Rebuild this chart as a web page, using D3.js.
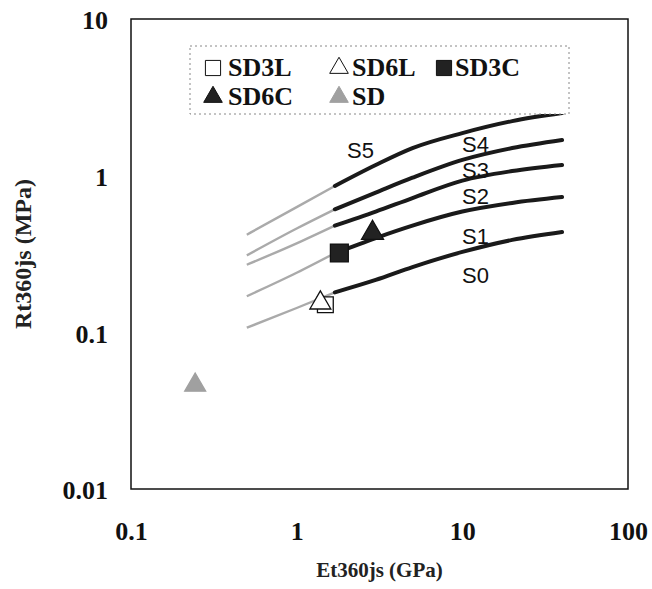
<!DOCTYPE html>
<html>
<head>
<meta charset="utf-8">
<script src="https://cdn.jsdelivr.net/npm/d3@7"></script>
<style>
  html, body { margin: 0; padding: 0; background: #fff; }
  svg { display: block; }
</style>
</head>
<body>
<svg id="chart" width="652" height="589"></svg>
<script>
// Modulus grid (GPa) at which the curves are sampled
const modulus = [0.5, 1, 1.7, 3, 5, 10, 20, 40];
// Resilient-strength curves, Rt360js (MPa), sampled at `modulus`
const curveS5 = [0.42, 0.63, 0.86, 1.17, 1.50, 1.87, 2.23, 2.51];
const curveS4 = [0.31, 0.46, 0.61, 0.78, 0.97, 1.26, 1.50, 1.69];
const curveS3 = [0.27, 0.37, 0.48, 0.59, 0.72, 0.93, 1.07, 1.17];
const curveS2 = [0.17, 0.24, 0.32, 0.40, 0.48, 0.59, 0.67, 0.73];
const curveS1 = [0.107, 0.143, 0.18, 0.216, 0.261, 0.326, 0.389, 0.437];
// modulus below which a curve is drawn as a thin grey extrapolation
const extrapolationLimit = 1.7;

// Curve labels: text and the point (E, R) where each sits
const curveLabels = ["S5", "S4", "S3", "S2", "S1", "S0"];
const labelE = [2.43, 12.0, 12.0, 12.0, 12.0, 12.0];
const labelR = [1.46, 1.59, 1.09, 0.742, 0.412, 0.232];

// Measured mixes
const mixNames = ["SD3L", "SD6L", "SD3C", "SD6C", "SD"];
const mixE = [1.49, 1.39, 1.81, 2.87, 0.244];
const mixR = [0.150, 0.154, 0.321, 0.431, 0.046];

const xTicks = [0.1, 1, 10, 100];
const yTicks = [0.01, 0.1, 1, 10];

const svg = d3.select("#chart");
const plot = { left: 131, right: 628, top: 19, bottom: 489 };

const x = d3.scaleLog().domain([0.1, 100]).range([plot.left, plot.right]);
const y = d3.scaleLog().domain([0.01, 10]).range([plot.bottom, plot.top]);

const serif = "'Liberation Serif', 'Times New Roman', serif";
const sans = "'Liberation Sans', Arial, sans-serif";

// Axes: labels only, frame drawn separately
const xAxis = d3.axisBottom(x).tickValues(xTicks).tickSize(0).tickPadding(0)
  .tickFormat(d => String(d));
const yAxis = d3.axisLeft(y).tickValues(yTicks).tickSize(0).tickPadding(0)
  .tickFormat(d => String(d));

const gx = svg.append("g").attr("transform", `translate(0,${plot.bottom})`).call(xAxis);
gx.select(".domain").remove();
gx.selectAll("text")
  .attr("y", 51).attr("dy", 0)
  .style("font-family", serif).style("font-weight", "bold")
  .style("font-size", "26px").attr("fill", "#111");

const gy = svg.append("g").attr("transform", `translate(${plot.left},0)`).call(yAxis);
gy.select(".domain").remove();
gy.selectAll("text")
  .attr("x", -23).attr("dy", "0.38em")
  .style("font-family", serif).style("font-weight", "bold")
  .style("font-size", "26px").attr("fill", "#111");

// Axis titles
svg.append("text")
  .attr("x", (plot.left + plot.right) / 2).attr("y", 577)
  .attr("text-anchor", "middle")
  .style("font-family", serif).style("font-weight", "bold").style("font-size", "21px")
  .attr("fill", "#222")
  .text("Et360js (GPa)");

svg.append("text")
  .attr("transform", `translate(31,${(plot.top + plot.bottom) / 2}) rotate(-90)`)
  .attr("text-anchor", "middle")
  .style("font-family", serif).style("font-weight", "bold").style("font-size", "24px")
  .attr("fill", "#222")
  .text("Rt360js (MPa)");

// Curves
const curves = [curveS5, curveS4, curveS3, curveS2, curveS1];
const line = d3.line()
  .x(d => x(d[0])).y(d => y(d[1]))
  .curve(d3.curveMonotoneX);

curves.forEach(vals => {
  const pts = modulus.map((e, i) => [e, vals[i]]);
  const grey = pts.filter(p => p[0] <= extrapolationLimit);
  const dark = pts.filter(p => p[0] >= extrapolationLimit);
  svg.append("path").attr("d", line(grey))
    .attr("fill", "none").attr("stroke", "#aaaaaa").attr("stroke-width", 2.4);
  svg.append("path").attr("d", line(dark))
    .attr("fill", "none").attr("stroke", "#1a1a1a").attr("stroke-width", 4)
    .attr("stroke-linecap", "round");
});

curveLabels.forEach((t, i) => {
  svg.append("text")
    .attr("x", x(labelE[i])).attr("y", y(labelR[i]))
    .attr("text-anchor", "middle").attr("dy", "0.35em")
    .style("font-family", sans).style("font-size", "22px").attr("fill", "#111")
    .text(t);
});

// Marker styles per mix
const mixSymbol = [d3.symbolSquare, d3.symbolTriangle, d3.symbolSquare, d3.symbolTriangle, d3.symbolTriangle];
const mixSize = [250, 190, 320, 210, 190];
const mixFill = ["#fff", "#fff", "#222", "#222", "#a0a0a0"];
const mixStroke = ["#111", "#111", "#111", "#111", "#a0a0a0"];

mixNames.forEach((n, i) => {
  svg.append("path")
    .attr("d", d3.symbol().type(mixSymbol[i]).size(mixSize[i])())
    .attr("transform", `translate(${x(mixE[i])},${y(mixR[i])})`)
    .attr("fill", mixFill[i]).attr("stroke", mixStroke[i]).attr("stroke-width", 1.3);
});

// Legend
const lg = svg.append("g");
lg.append("rect").attr("x", 190).attr("y", 46).attr("width", 379).attr("height", 68)
  .attr("fill", "#fff").attr("stroke", "#888").attr("stroke-width", 1)
  .attr("stroke-dasharray", "2,3");
const legendCol = [213, 339, 444, 213, 339];
const legendBase = [76, 76, 76, 105, 105];
const legendGap = [15, 13, 11, 15, 13];
mixNames.forEach((n, i) => {
  lg.append("path")
    .attr("d", d3.symbol().type(mixSymbol[i]).size(mixSymbol[i] === d3.symbolSquare ? 230 : 150)())
    .attr("transform", `translate(${legendCol[i]},${legendBase[i] - 8})`)
    .attr("fill", mixFill[i]).attr("stroke", mixStroke[i]).attr("stroke-width", 1);
  lg.append("text")
    .attr("x", legendCol[i] + legendGap[i]).attr("y", legendBase[i])
    .style("font-family", serif).style("font-weight", "bold").style("font-size", "26px")
    .attr("fill", "#111")
    .text(n);
});

// Plot frame
svg.append("rect")
  .attr("x", plot.left).attr("y", plot.top)
  .attr("width", plot.right - plot.left).attr("height", plot.bottom - plot.top)
  .attr("fill", "none").attr("stroke", "#111").attr("stroke-width", 1.5);
</script>
</body>
</html>
